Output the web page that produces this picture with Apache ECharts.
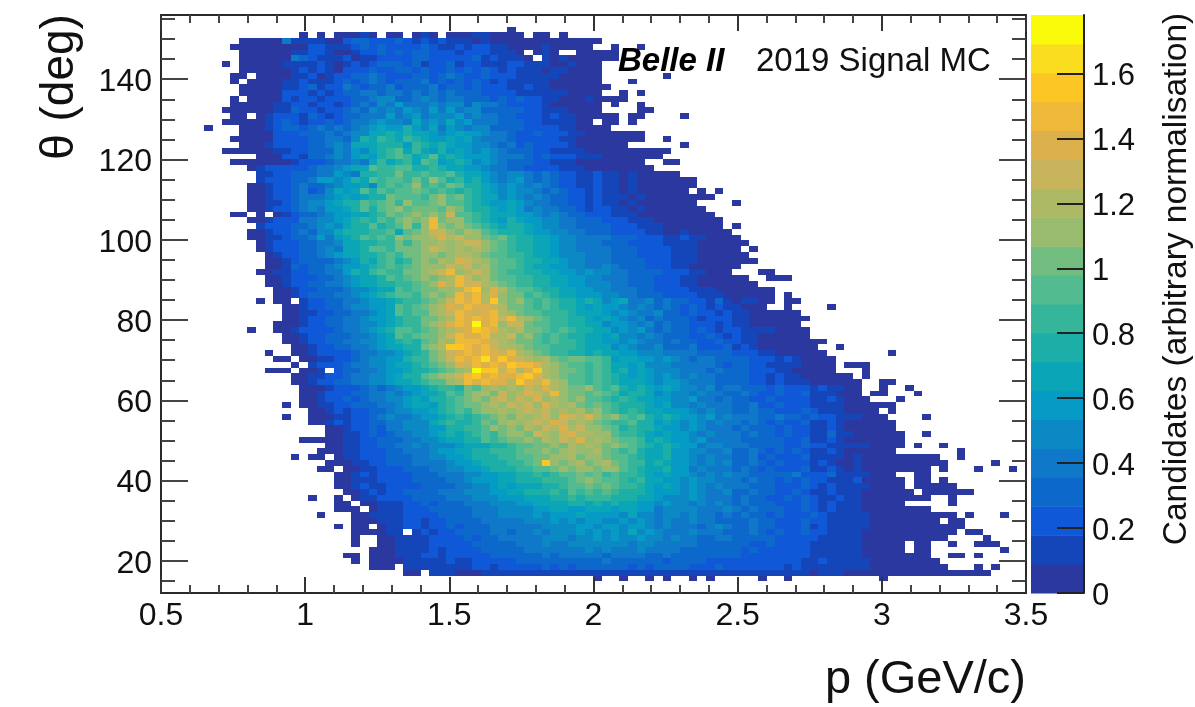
<!DOCTYPE html>
<html><head><meta charset="utf-8">
<style>html,body{margin:0;padding:0;background:#fff}#c{width:1195px;height:707px}</style>
<script src="https://cdn.jsdelivr.net/npm/echarts@6/dist/echarts.min.js"></script>
</head><body><div id="c"></div>
<script>
// Values; each cell holds a colour-band index (0-j, base 36), '.' = empty bin.
// A row is [row from the bottom, first column, cells up to the next multiple of 10, then ten columns per group].
const pMin = 0.5, pMax = 3.5, pBinCount = 100;
const thetaMin = 12, thetaMax = 156, thetaBinCount = 100;
const zMax = 1.78;
const pTicks = [0.5, 1, 1.5, 2, 2.5, 3, 3.5];
const thetaMajorTicks = [20, 40, 60, 80, 100, 120, 140];
const thetaMinorTicks = [15, 25, 30, 35, 45, 50, 55, 65, 70, 75, 85, 90, 95, 105, 110, 115, 125, 130, 135, 145, 150, 155];
const zTicks = [0, 0.2, 0.4, 0.6, 0.8, 1, 1.2, 1.4, 1.6];
const palette = ['#2a389f','#1546b9','#0f58d8','#0d68cc','#1078c8','#0a89c5','#069bc4','#0aa6b8','#1cafa8','#35b59a',
  '#52bb90','#72bc80','#98bb6e','#aeb965','#c8b45a','#dcb04a','#eeb838','#fcc625','#fbdd20','#f8fa0a'];
const rowsTop = [
[97,40,"0"],
[96,16,"0.0. 00010.00.0 10.0001100 00.00.0"],
[95,9,"0 0000411110 0233222321 2121110100 0000000000 0"],
[94,8,"00 0000000221 1123232222 3211212211 0000100000"],
[93,9,"0 0000011221 0012232323 3222122211 10.010..00 000"],
[92,9,"0 0000043211 1201122223 3222223121 110.101000 000"],
[91,9,"0 0000111121 0121233323 1223122111 2211100100 0"],
[90,9,"0 0000012121 0222322332 3223232321 2111011000 0"],
[89,8,"00 .000011201 2233432223 3234322322 2111110000 0"],
[88,8,"0. 0000112111 2323432333 4232323212 1111100000 0"],
[87,9,"0 0000112312 2432334233 3423323222 1121100000 00"],
[86,9,"0 0000222121 2334434434 3434333222 2111111000 0"],
[85,8,"0. 0000212212 2233455334 5434433323 2322110001 000"],
[84,8,"00 0001122122 1234354644 4545535443 2222100000 0"],
[83,7,"000 0001132212 2343545465 4646455333 3322111000 0"],
[82,8,"00 .012221321 2334446456 4555645443 3222121100 000"],
[81,7,"000 0012321223 2344565547 5657564443 3322111100 .00"],
[80,9,"0 0012332343 4345676686 5746545533 3322221100 00"],
[79,9,"0 0002223334 3455778787 7656766544 3223222110 0000"],
[78,8,"00 0002222334 4358798798 7667675444 3222221100 0000"],
[77,9,"0 0012222334 5477788869 8787665543 4232222100 0000"],
[76,7,"000 0001122333 5465789a79 7686765654 3332211110 000000000"],
[75,11,"000221334 5467689a97 8a78766654 4432322211 10000000"],
[74,8,"00 0000012223 4454797897 a967875654 3332211100 000000"],
[73,10,"0122222344 5677a99aa8 8987766544 3322221110 0000000"],
[72,11,"112233344 6548899b99 a99a877654 5543432211 2110100000"],
[71,11,"122233466 5687a9aa9b 9ca8978654 5643432211 2110100000 00"],
[70,10,"0012234334 566759a9ac 9a9ba88765 6545432211 2110100000 00"],
[69,10,"0012234235 767a8a9aab a9a9898765 6554343221 2110100000 0"],
[68,10,"0012234445 676788baaa 9bcab98775 6545433221 2111010000 0000"],
[67,10,"0011234556 788a9ab9ca abcaa98766 7654433221 2110100000 00"],
[66,10,"0012234546 678a8abcab bbacb98876 7645443321 2211010000 000"],
[65,8,"00 .0.0123345 667789babc bcbeaa9877 7665454332 2211100000 0000"],
[64,10,"0012224455 67898a9bcb cgbcca9876 8766554433 3222111000 00000"],
[63,11,"122233456 5788a89ac9 cgcbcba987 8876554433 3322211100 00000"],
[62,10,"0012234355 788899a7ab ceecbdca98 8876655443 3322221100 100000"],
[61,10,"0011233464 678a9a9cbc cdfdeccbab 9887765544 4433322211 2110000"],
[60,11,"012223344 5778899b9b ccdcdeecba 9887765544 4333222211 11000000"],
[59,11,"012223345 4778aa9bbb cedcdcdcba 9887765544 4433322221 1100000"],
[58,12,"01223345 677889a9bb ccbcddcbaa 9987765554 4433322221 11000000"],
[57,12,"00123333 456879a89b cbdcfedcba a988776554 4433332221 110000000"],
[56,12,"00132334 566789a9ab cccedecdba a987766554 4543332221 1000000"],
[55,11,"001122334 46879a99bb cdegcdedba 9988776656 5544333322 211000"],
[54,12,"00122233 456778a9ab cbcdgecdba a998877665 5444333222 11000000"],
[53,12,"00122334 456778899a bcfdgefdcb a998877665 5544333222 110000000"],
[52,13,"0012233 3455677a9a bbccdghcfd baa9887766 5544433222 21110000000"],
[51,13,"0012333 4456789aa9 bcbcgegdfc bb9a987766 6554433322 22111000000"],
[50,13,"00.1223 3445667899 abcegfgdhc bca9a98878 7567445343 32213101100"]
];
const rowsMiddle = [
[49,14,"001223 3455667a9a bcdfegffed bba9a98876 7665454343 2321211000"],
[48,14,"001122 3344567a9a acdegfefgd cbaa999877 7656544533 2322121100 0000"],
[47,14,"001223 3445667899 bbcdgfgfge gdcba99887 6765453433 3212221100 00000"],
[46,13,"0001223 3445567899 bcdfgfjfgc eebaa99887 7566545343 3222121100 0000"],
[45,13,"0012222 3445678aa9 abcdefhgfd cdbba9a988 7756564343 3232122111 10000"],
[44,14,"001223 3344567a9a bbcegffgdd ebca9a9887 7675545433 3223212110 00000"],
[43,14,"001223 3445567898 abdcgggfed cbba9a9987 7665654434 3322322110 0000000"],
[42,15,"00122 3344567788 bcdhhgfged dcbaa99987 7756544533 3422231210 000000"],
[41,15,"00122 2234455678 9bcefgfgfe gdcba99887 8776655544 4433332221 1000000"],
[40,13,"00.0011 2234556689 9bcegfgifh fedcdbabba a967766565 4344333322 21210000"],
[39,15,"0.122 2344556778 9abcfegfgf hggfdcbaa9 a977675554 4444323322 11110000"],
[38,12,"000.001. 2334456678 89abcdjhhe gdfhdcbba9 a978676555 4443433322 21100000"],
[37,15,"00112 2344556788 abcdeghfgf fghfdcbaa9 a987676565 4544333322 1211000000"],
[36,15,"00122 3344556778 9aacdgfgff dhfegdcaa9 a987776566 5444333322 1211100000 0"],
[35,16,"0001 2223434566 78998bacdc dcedfdcbbc a9a8787676 5545344333 2322212110 0"],
[34,16,"0012 2233445456 778a9bcdbe cdfedgcbba ba97887565 5454433432 2322311100 0"],
[33,16,"0012 2323445567 6889abcbde cedfcdcbca a989877665 5644343322 3222211210 00"],
[32,16,"0011 2233344567 7689abbcdc edecfdcdba ba98887675 5454443342 2322211110 0000"],
[31,17,"001 2122334556 6789a9bccd cdedecdcdb ca98987766 6545443343 3222321110 000"],
[30,17,"000 1122345445 6678989abc bdcdecfedf cbca9a8787 6656454443 3433232211 1000"],
[29,17,"001 2122334455 5789889bac dcdedfecdc ba99a88676 5654544343 2322311210 00000"],
[28,19,"0 0122324455 5668899acb cbdcedfdec cba8988766 5654443433 3232211210 00000"],
[27,19,"0 0112323445 5678789a9b ccbedcefdd cca9987676 6545444343 3232211311 000000"],
[26,16,"0000 0112233344 5567788a9a bbcbdcedfc dcbaa97876 6564444333 3322311210 000000"],
[25,19,"0 0112233445 4555677788 9aabbcbdcd cbcba98787 6645544433 3322322111 110000"],
[24,18,"00 0112223344 4566778899 9abbcbcdcc dba9a87786 6554453343 2323211210 00000"]
];
const rowsBottom = [
[23,17,"00. 0112223334 4556678889 9aabbccdbc cbaa987786 6545443342 3222311110 10000000"],
[22,19,"0 0011223334 4445667888 99abhcbcdb cdba997876 6545453343 2322212100 10000000"],
[21,18,"00 .001122233 3445566788 899aabcbcc bcca987786 6454443432 3222311210 10000"],
[20,20,"0012122223 3344455667 788989aaba b9a9987676 6545454433 3334222311 11000"],
[19,20,"0011122223 3334456667 7888999abc baa9897766 5655444343 3232322111 200000"],
[18,20,"0012112222 3333445567 6777889aab aba9987676 5654544433 3222321211 110000"],
[17,21,"001212233 3344455566 7788898a9a 9a98887666 5654453343 3223211211 1000000"],
[16,20,"0.01122223 3334445556 6677788989 9988877655 5654443433 2232321121 100000000"],
[15,20,"00.0011122 3233344455 5667777887 8787766565 5454543433 3222321211 100000"],
[14,20,"000.011122 2333334445 5556677667 7767766455 5544454343 3322321211 100000000"],
[13,22,"00111122 2233334445 5556566676 6665755455 4544343433 2322232111 110000000"],
[12,22,"00011122 1223333444 4455565656 6556565454 4544333343 3222322111 1100000000"],
[11,22,"00.01122 1223233344 4444555566 5665665454 4434543343 3222312111 11000000000"],
[10,22,"000011.1 2122333344 3445455565 6565756544 4544433343 2322322111 10000000000"],
[9,25,"00111 1222232334 4444555455 6565565545 4433443333 3222221111 10000000000"],
[8,25,"00111 1222223333 3444544555 5555455444 4433333322 3222211111 100000"],
[7,24,"000111 1212222333 3344444445 4544454444 3333333232 2222211111 100000"],
[6,24,"000111 2212222233 3333434444 4344443343 3333333222 2222211111 100000000"],
[5,24,"000011 1112112222 2333333333 3433333323 3332222222 2222112111 1100000000"],
[4,24,"000.11 1111112212 2222323233 3333232333 3222322222 2212111111 11000000000"],
[3,28,"00 .111000111 1111111111 1111111111 1111111111 1111101110 0000000000 000000"]
];
// isolated lowest-band bins: [row, columns...]
const strayBins = [
[94,52,55],[91,7],[89,58],[88,54],[86,53,55],[85,53],[84,52,55],[83,55,56],[82,54,55,60],[81,54],[80,5],
[79,54,55],[78,54,55,58],[77,60],[74,58,59],[69,62,64],[67,66],[63,66],[59,68],[55,69,70],[54,70,71,72],
[51,72],[50,11,72,73],[49,72,77],[45,10],[42,78],[41,12,84],[39,79,80,81],[38,81],[37,81],[36,83,84],
[35,83,86],[34,82,83,87],[33,85],[32,14,84],[31,84],[30,14,88],[27,88],[25,87,90],[24,92],[23,15,88,89,92],
[22,88,89,90,96],[21,85,86,87,88,90,94,98],[20,87,88],[19,87,88,90],[18,87,88,89,90,91],
[17,88,89,90,91,92,93],[16,17,91],[15,91],[13,18,89,90,91,93,97],[12,91,92],[11,20,91,92],[10,91,93,94],
[9,22,95],[8,22,87,88,91,94,95,96],[7,87,88,97],[6,21,22,91,92,94],[5,22],[4,94,96],
[2,50,53,56,58,61,63,69,72,83]
];

const bandWidth = zMax / palette.length;
const pStep = (pMax - pMin) / pBinCount, thetaStep = (thetaMax - thetaMin) / thetaBinCount;
const cells = [];
function addCell(col, row, level) {
  cells.push([pMin + (col + 0.5) * pStep, thetaMin + (row + 0.5) * thetaStep, (level + 0.5) * bandWidth]);
}
rowsTop.concat(rowsMiddle, rowsBottom).forEach(function (r) {
  r[2].replace(/\s/g, '').split('').forEach(function (ch, i) {
    if (ch !== '.') addCell(r[1] + i, r[0], parseInt(ch, 36));
  });
});
strayBins.forEach(function (s) { s.slice(1).forEach(function (c) { addCell(c, s[0], 0); }); });
const bands = palette.map(function (_, i) { return [0, i * bandWidth, 1, (i + 1) * bandWidth, i]; });

const FONT = '"Liberation Sans", Arial, sans-serif';
const AX = '#2a2a2a';
function renderCell(params, api) {
  const p = api.value(0), t = api.value(1), v = api.value(2);
  const a = api.coord([p - pStep / 2, t + thetaStep / 2]);
  const b = api.coord([p + pStep / 2, t - thetaStep / 2]);
  const x0 = Math.round(a[0]), x1 = Math.round(b[0]), y0 = Math.round(a[1]), y1 = Math.round(b[1]);
  return { type: 'rect', shape: { x: x0, y: y0, width: x1 - x0, height: y1 - y0 },
    style: { fill: palette[Math.min(palette.length - 1, Math.floor(v / bandWidth))] } };
}
function renderBand(params, api) {
  const a = api.coord([api.value(0), api.value(3)]);
  const b = api.coord([api.value(2), api.value(1)]);
  return { type: 'rect', shape: { x: a[0], y: a[1], width: b[0] - a[0], height: b[1] - a[1] + 0.5 },
    style: { fill: palette[api.value(4)] } };
}
function shiftedLabel(size, margin, ticks) {
  return { customValues: ticks, margin: margin, formatter: '{v|{value}}', fontFamily: FONT, fontSize: size, color: '#111',
    rich: { v: { fontFamily: FONT, fontSize: size, color: '#111', padding: [6, 0, 0, 0] } } };
}
function xAx(position, showLabel) {
  return { type: 'value', gridIndex: 0, position: position, min: pMin, max: pMax, interval: 0.5, z: 5,
    splitLine: { show: false },
    axisLine: { show: true, onZero: false, lineStyle: { color: AX, width: 2 } },
    axisTick: { show: true, inside: true, length: 16, lineStyle: { color: '#333', width: 2 } },
    minorTick: { show: true, splitNumber: 5, length: 8, lineStyle: { color: '#444', width: 2 } },
    minorSplitLine: { show: false },
    axisLabel: { show: showLabel, margin: 7, fontFamily: FONT, fontSize: 32, color: '#111',
      showMinLabel: true, showMaxLabel: true, hideOverlap: false } };
}
function yAx(position, ticks, len, showLabel) {
  return { type: 'value', gridIndex: 0, position: position, min: thetaMin, max: thetaMax, z: 5,
    splitLine: { show: false },
    axisLine: { show: true, onZero: false, lineStyle: { color: AX, width: 2 } },
    axisTick: { show: true, inside: true, length: len, customValues: ticks, lineStyle: { color: '#444', width: 2 } },
    axisLabel: Object.assign(shiftedLabel(32, 9, ticks), { show: showLabel }) };
}
function txt(x, y, text, size, extra, rot) {
  return { type: 'text', x: x, y: y, rotation: rot || 0, z: 20,
    style: Object.assign({ text: text, font: size + 'px ' + FONT, fill: '#111', align: 'center', verticalAlign: 'middle' }, extra || {}) };
}
const chart = echarts.init(document.getElementById('c'), null, { renderer: 'canvas' });
chart.setOption({
  animation: false,
  backgroundColor: '#fff',
  grid: [
    { left: 161, right: 169, top: 15, bottom: 114 },
    { left: 1031, width: 53, top: 15, bottom: 114 }
  ],
  xAxis: [
    xAx('bottom', true), xAx('top', false),
    { type: 'value', gridIndex: 1, min: 0, max: 1, show: false }
  ],
  yAxis: [
    yAx('left', thetaMajorTicks, 27, true), yAx('left', thetaMinorTicks, 14, false),
    yAx('right', thetaMajorTicks, 27, false), yAx('right', thetaMinorTicks, 14, false),
    { type: 'value', gridIndex: 1, position: 'right', min: 0, max: zMax, z: 5,
      splitLine: { show: false },
      axisLine: { show: true, onZero: false, lineStyle: { color: '#222', width: 2 } },
      axisTick: { show: true, inside: true, length: 27, customValues: zTicks, lineStyle: { color: '#222', width: 2 } },
      axisLabel: shiftedLabel(31, 8, zTicks) }
  ],
  series: [
    { type: 'custom', xAxisIndex: 0, yAxisIndex: 0, data: cells, renderItem: renderCell, silent: true,
      encode: { x: 0, y: 1 }, progressive: 0 },
    { type: 'custom', xAxisIndex: 2, yAxisIndex: 4, data: bands, renderItem: renderBand, silent: true,
      encode: { x: [0, 2], y: [1, 3] } }
  ],
  graphic: [
    txt(60, 87, 'θ (deg)', 46, null, Math.PI / 2),
    txt(1026, 680, 'p (GeV/c)', 47, { align: 'right' }),
    txt(1177, 279, 'Candidates (arbitrary normalisation)', 33.5, null, Math.PI / 2),
    txt(618, 62, 'Belle II', 33, { align: 'left', font: 'italic bold 33px ' + FONT, fill: '#000' }),
    txt(756, 62, '2019 Signal MC', 33, { align: 'left' })
  ]
});
</script></body></html>
